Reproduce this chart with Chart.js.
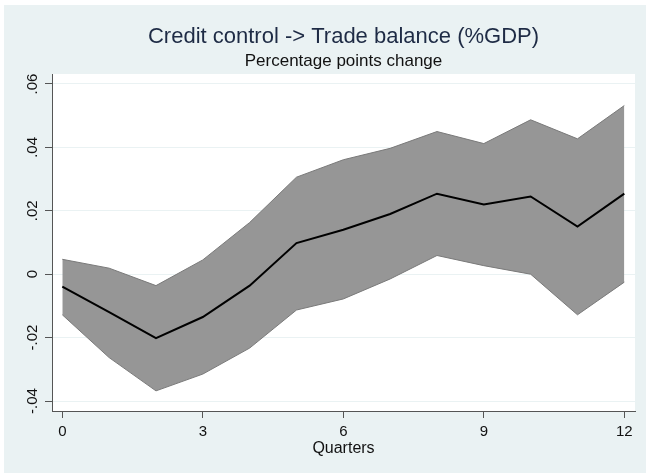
<!DOCTYPE html>
<html>
<head>
<meta charset="utf-8">
<script src="https://cdn.jsdelivr.net/npm/chart.js@4.4.1/dist/chart.umd.min.js"></script>
<style>
  html, body { margin: 0; padding: 0; background: #EAF2F3; }
  #wrap { width: 646px; height: 473px; }
</style>
</head>
<body>
<div id="wrap"><canvas id="c" width="646" height="473"></canvas></div>
<script>
// ---- data ----
const quarters = [0, 1, 2, 3, 4, 5, 6, 7, 8, 9, 10, 11, 12];
const meanResponse = [-0.0039, -0.0120, -0.0202, -0.0135, -0.0036, 0.0098, 0.0140, 0.0190, 0.0254, 0.0220, 0.0245, 0.0150, 0.0254];
const upperBand = [0.0047, 0.0019, -0.0036, 0.0045, 0.0163, 0.0306, 0.0361, 0.0397, 0.0450, 0.0412, 0.0487, 0.0427, 0.0532];
const lowerBand = [-0.0128, -0.0263, -0.0368, -0.0315, -0.0233, -0.0113, -0.0078, -0.0015, 0.0059, 0.0027, 0.0000, -0.0128, -0.0025];
const xTicks = [0, 3, 6, 9, 12];
const yTicks = [-0.04, -0.02, 0, 0.02, 0.04, 0.06];
const yTickLabels = ["-.04", "-.02", "0", ".02", ".04", ".06"];
const titleText = "Credit control -> Trade balance (%GDP)";
const subtitleText = "Percentage points change";
const xTitleText = "Quarters";

const FONT = "'Liberation Sans', Arial, Helvetica, sans-serif";
const BG = "#EAF2F3";

const toXY = (vals) => quarters.map((q, i) => ({ x: q, y: vals[i] }));

const decor = {
  id: 'decor',
  beforeDraw(chart) {
    const ctx = chart.ctx, a = chart.chartArea;
    ctx.save();
    ctx.fillStyle = "#FFFFFF";
    ctx.fillRect(0, 0, chart.width, chart.height);
    ctx.fillStyle = BG;
    ctx.fillRect(4, 5, chart.width - 4, chart.height - 5);
    ctx.fillStyle = "#FFFFFF";
    ctx.fillRect(a.left, a.top, a.right - a.left, a.bottom - a.top);
    ctx.restore();
  },
  afterDraw(chart) {
    const ctx = chart.ctx, a = chart.chartArea;
    const cx = (a.left + a.right) / 2;
    ctx.save();
    ctx.textAlign = "center";
    ctx.textBaseline = "alphabetic";
    ctx.fillStyle = "#1E2B45";
    ctx.font = "22px " + FONT;
    ctx.fillText(titleText, cx, 43);
    ctx.fillStyle = "#111111";
    ctx.font = "17px " + FONT;
    ctx.fillText(subtitleText, cx, 66);
    ctx.font = "16px " + FONT;
    ctx.fillText(xTitleText, cx, 453);
    // rotated y tick labels
    const ys = chart.scales.y;
    ctx.font = "15px " + FONT;
    ctx.textBaseline = "middle";
    yTicks.forEach((v, i) => {
      const py = ys.getPixelForValue(v);
      ctx.save();
      ctx.translate(33, py);
      ctx.rotate(-Math.PI / 2);
      ctx.fillText(yTickLabels[i], 0, 0);
      ctx.restore();
    });
    ctx.restore();
  }
};

new Chart(document.getElementById('c'), {
  type: 'line',
  data: {
    datasets: [
      {
        label: 'Response',
        data: toXY(meanResponse),
        borderColor: '#000000',
        borderWidth: 2,
        pointRadius: 0,
        fill: false,
        tension: 0
      },
      {
        label: 'Lower',
        data: toXY(lowerBand),
        borderColor: '#7A7A7A',
        borderWidth: 1,
        pointRadius: 0,
        fill: false,
        tension: 0
      },
      {
        label: 'Upper',
        data: toXY(upperBand),
        borderColor: '#7A7A7A',
        borderWidth: 1,
        backgroundColor: '#969696',
        pointRadius: 0,
        fill: '-1',
        tension: 0
      }
    ]
  },
  options: {
    responsive: false,
    animation: false,
    layout: { padding: { top: 74, right: 11, left: 0, bottom: 0 } },
    plugins: {
      legend: { display: false },
      title: { display: false },
      tooltip: { enabled: false },
      filler: { propagate: false }
    },
    scales: {
      x: {
        type: 'linear',
        min: -0.22,
        max: 12.228,
        afterBuildTicks: (s) => { s.ticks = xTicks.map(v => ({ value: v })); },
        afterFit: (s) => { s.height = 62; },
        ticks: {
          font: { family: FONT, size: 15 },
          color: '#111111',
          padding: 5,
          maxRotation: 0,
          callback: (v) => String(v)
        },
        grid: {
          drawOnChartArea: false,
          drawTicks: true,
          tickLength: 7,
          tickColor: '#555555'
        },
        border: { display: true, color: '#555555', width: 1 }
      },
      y: {
        type: 'linear',
        min: -0.04315,
        max: 0.06315,
        afterBuildTicks: (s) => { s.ticks = yTicks.map(v => ({ value: v })); },
        afterFit: (s) => { s.width = 52; },
        ticks: { display: false },
        grid: {
          color: '#EAF2F3',
          lineWidth: 1,
          drawTicks: true,
          tickLength: 7,
          tickColor: '#555555'
        },
        border: { display: true, color: '#555555', width: 1 }
      }
    }
  },
  plugins: [decor]
});
</script>
</body>
</html>
